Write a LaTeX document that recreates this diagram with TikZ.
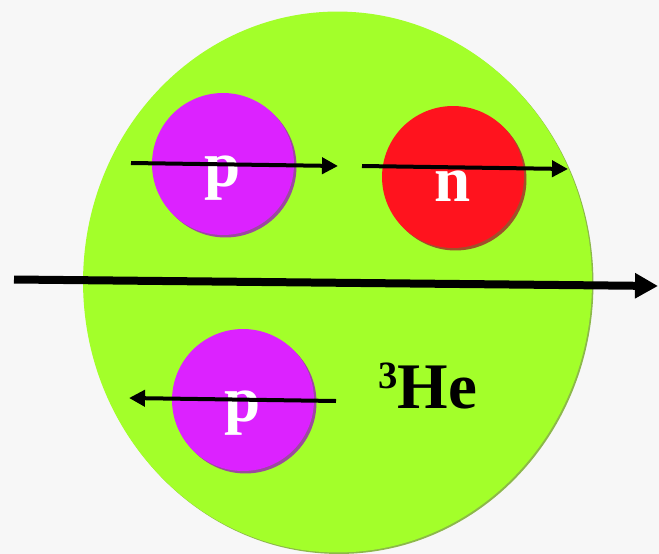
\documentclass[tikz,border=0pt]{standalone}
\usepackage{fontspec}
\setmainfont{Liberation Serif}
\usetikzlibrary{positioning, shapes.geometric, arrows.meta, shadows}
\definecolor{bgGray}{HTML}{F7F7F7}
\definecolor{heliumGreen}{HTML}{A3FF2A}
\definecolor{heliumEdge}{HTML}{8CB84A}
\definecolor{protonPink}{HTML}{DC22FF}
\definecolor{protonEdge}{HTML}{9B4A9E}
\definecolor{neutronRed}{HTML}{FF131E}
\definecolor{neutronEdge}{HTML}{A0502A}

\begin{document}
\begin{tikzpicture}[x=0.02cm, y=-0.02cm,
    nucleus/.style={ellipse, fill=heliumGreen, minimum width=10.18cm, minimum height=10.82cm, inner sep=0pt,
        drop shadow={shadow xshift=0.03cm, shadow yshift=-0.03cm, fill=heliumEdge, opacity=1}},
    nucleon/.style={circle, minimum size=2.84cm, inner sep=0pt},
    protonball/.style={nucleon, fill=protonPink, drop shadow={shadow xshift=0.05cm, shadow yshift=-0.05cm, fill=protonEdge, opacity=1}},
    neutronball/.style={nucleon, fill=neutronRed, drop shadow={shadow xshift=0.05cm, shadow yshift=-0.05cm, fill=neutronEdge, opacity=1}},
    ballLabel/.style={anchor=base, text=white, font=\fontsize{37}{40}\selectfont\bfseries},
    spin/.style={line width=0.08cm, -{Triangle[length=0.32cm, width=0.32cm]}},
    beam/.style={line width=0.16cm, -{Triangle[length=0.46cm, width=0.48cm]}},
]
\fill[bgGray] (0,0) rectangle (659,554);
\useasboundingbox (0,0) rectangle (659,554);

\node[nucleus] (he3) at (337.5,282) {};

\node[protonball] (pUp) at (223,164) {};
\node[neutronball] (nMid) at (453,177) {};
\node[protonball] (pLow) at (243,400) {};

\node[ballLabel] (pUpText) at ([yshift=-0.46cm]pUp.center) {p};
\node[ballLabel] (nMidText) at ([yshift=-0.5cm]nMid.center) {n};
\node[ballLabel] (pLowText) at ([yshift=-0.44cm]pLow.center) {p};

\node[anchor=base west, inner sep=0pt, font=\fontsize{37}{40}\selectfont\bfseries] (heText) at (378,408)
    {\raisebox{11pt}{\fontsize{22}{24}\selectfont 3}He};

% spin arrows
\coordinate (pUpTail) at (131,163);
\coordinate (pUpHead) at (338,166);
\coordinate (nMidTail) at (362,166);
\coordinate (nMidHead) at (568,169);
\coordinate (pLowTail) at (336,401);
\coordinate (pLowHead) at (129,398);
\draw[spin] (pUpTail) -- (pUpHead);
\draw[spin] (nMidTail) -- (nMidHead);
\draw[spin] (pLowTail) -- (pLowHead);

% beam
\coordinate (beamTail) at (14,279.5);
\coordinate (beamHead) at (658,286);
\draw[beam] (beamTail) -- (beamHead);
\end{tikzpicture}
\end{document}
